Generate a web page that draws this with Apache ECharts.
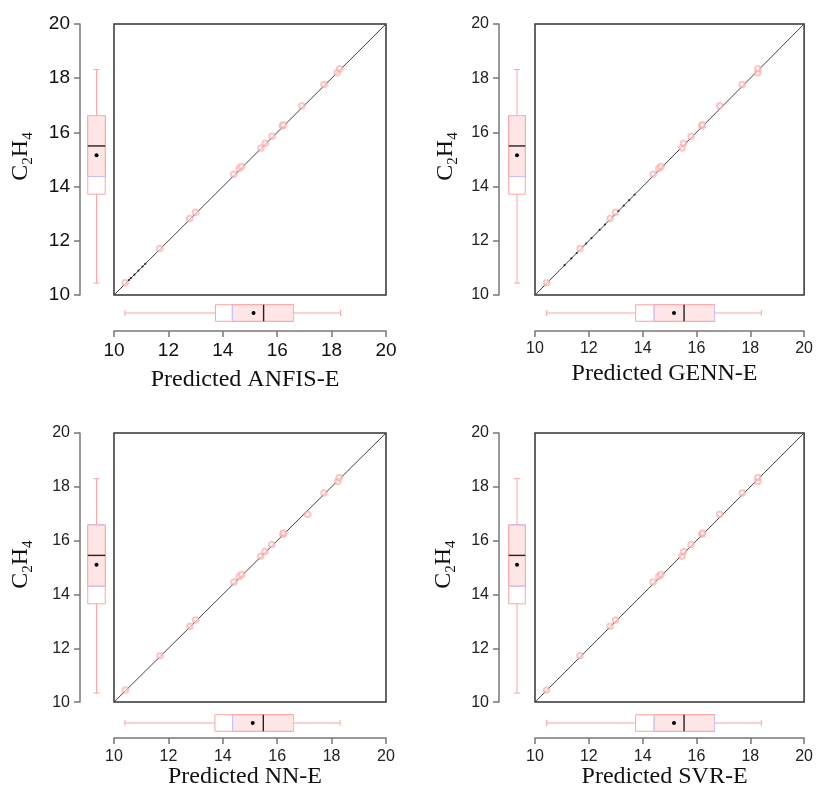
<!DOCTYPE html>
<html><head><meta charset="utf-8">
<script src="https://cdn.jsdelivr.net/npm/echarts@6/dist/echarts.min.js"></script>
<style>html,body{margin:0;padding:0;background:#fff}#c{width:816px;height:790px}</style>
</head><body><div id="c"></div>
<script>
// ---- data ----
const actualC2H4 = [10.45, 11.72, 12.82, 13.05, 14.46, 14.67, 14.74, 15.42, 15.60, 15.86, 16.24, 16.28, 16.98, 17.77, 18.20, 18.35];
const predANFIS  = [10.41, 11.68, 12.78, 13.00, 14.40, 14.60, 14.68, 15.40, 15.56, 15.81, 16.19, 16.22, 16.91, 17.72, 18.20, 18.30];
const predGENN   = [10.43, 11.67, 12.79, 12.99, 14.39, 14.60, 14.68, 15.46, 15.52, 15.80, 16.20, 16.22, 16.86, 17.70, 18.28, 18.28];
const predNN     = [10.42, 11.69, 12.79, 13.00, 14.41, 14.60, 14.69, 15.39, 15.55, 15.80, 16.21, 16.23, 17.12, 17.72, 18.22, 18.28];
const predSVR    = [10.43, 11.67, 12.79, 12.99, 14.39, 14.60, 14.68, 15.46, 15.52, 15.80, 16.20, 16.23, 16.86, 17.70, 18.28, 18.28];
// small black points lying on the identity line
const lineDotsANFIS = [10.55, 10.62, 10.75, 10.90, 11.05, 11.15];
const lineDotsGENN  = [11.10, 11.35, 11.55, 11.90, 12.10, 12.40, 12.60, 13.10, 13.30, 13.50, 13.70];
const lineDotsNN    = [];
const lineDotsSVR   = [];
// box stats: [lower whisker, Q1, inner lower edge, median, Q3, upper whisker, mean]
const boxActual = [10.44, 13.72, 14.37, 15.50, 16.62, 18.32, 15.16];
const boxANFIS  = [10.40, 13.73, 14.35, 15.50, 16.60, 18.33, 15.13];
const boxGENN   = [10.43, 13.70, 14.38, 15.48, 16.60, 18.32, 15.11];
const boxNN     = [10.40, 13.71, 14.36, 15.49, 16.60, 18.31, 15.10];
const boxSVR    = [10.43, 13.70, 14.38, 15.48, 16.60, 18.32, 15.11];
const modelNames = ['Predicted ANFIS-E', 'Predicted GENN-E', 'Predicted NN-E', 'Predicted SVR-E'];
const axisMin = 10, axisMax = 20, axisStep = 2;
const identityLine = [[10, 10], [20, 20]];

const preds = [predANFIS, predGENN, predNN, predSVR];
const dots = [lineDotsANFIS, lineDotsGENN, lineDotsNN, lineDotsSVR];
const hboxes = [boxANFIS, boxGENN, boxNN, boxSVR];

// ---- layout ----
const layout = [
  {left:114, top:24,  w:272, h:271, yOff:34, xOff:36, vL:87,  vW:19, hT:304, hH:18, lab:19, labC:'#111', xGap:37, yGap:44},
  {left:535, top:24,  w:272, h:271, yOff:36, xOff:36, vL:508, vW:18, hT:304, hH:18, lab:16, labC:'#222', xGap:31, yGap:38},
  {left:114, top:433, w:272, h:272, yOff:34, xOff:36, vL:87,  vW:19, hT:714, hH:18, lab:16, labC:'#222', xGap:25, yGap:44},
  {left:535, top:433, w:272, h:272, yOff:36, xOff:36, vL:508, vW:18, hT:714, hH:18, lab:16, labC:'#222', xGap:25, yGap:40}
];

const PINK = '#ffa4a4', FILL = '#ffe6e6', BLUE = '#c4c4ff';

function boxRenderer(vertical) {
  return function (params, api) {
    const lo = api.value(0), q1 = api.value(1), qi = api.value(2), med = api.value(3),
          q3 = api.value(4), hi = api.value(5), mean = api.value(6);
    const P = v => vertical ? api.coord([0.5, v]) : api.coord([v, 0.5]);
    const half = vertical ? api.size([0.46, 0])[0] : api.size([0, 0.46])[1];
    const cap = 3;
    const c = P(lo);
    const cc = vertical ? c[0] : c[1];
    const pos = v => vertical ? P(v)[1] : P(v)[0];
    function rect(a, b) {
      const s = Math.min(a, b), e = Math.max(a, b);
      if (vertical) return {x: cc - half, y: s, width: 2 * half, height: e - s};
      return {x: s, y: cc - half, width: e - s, height: 2 * half};
    }
    function line(a, b) {
      return vertical ? {x1: cc, y1: a, x2: cc, y2: b} : {x1: a, y1: cc, x2: b, y2: cc};
    }
    function cross(p, hl) {
      return vertical ? {x1: cc - hl, y1: p, x2: cc + hl, y2: p} : {x1: p, y1: cc - hl, x2: p, y2: cc + hl};
    }
    const ch = [];
    ch.push({type:'line', shape: line(pos(lo), pos(q1)), style:{stroke: PINK, lineWidth: 1}});
    ch.push({type:'line', shape: line(pos(q3), pos(hi)), style:{stroke: PINK, lineWidth: 1}});
    ch.push({type:'line', shape: cross(pos(lo), cap), style:{stroke: PINK, lineWidth: 1}});
    ch.push({type:'line', shape: cross(pos(hi), cap), style:{stroke: PINK, lineWidth: 1}});
    ch.push({type:'rect', shape: rect(pos(q1), pos(q3)), style:{fill:'#fff', stroke: PINK, lineWidth: 1}});
    ch.push({type:'rect', shape: rect(pos(qi), pos(q3)), style:{fill: FILL, stroke: PINK, lineWidth: 1}});
    ch.push({type:'line', shape: cross(pos(qi), half - 0.5), style:{stroke: BLUE, lineWidth: 1}});
    ch.push({type:'line', shape: cross(pos(q3), half - 0.5), style:{stroke: BLUE, lineWidth: 1}});
    ch.push({type:'line', shape: cross(pos(med), half), style:{stroke: '#222', lineWidth: 1.4}});
    const m = P(mean);
    ch.push({type:'circle', shape: vertical ? {cx: cc, cy: m[1], r: 2} : {cx: m[0], cy: cc, r: 2}, style:{fill:'#000'}});
    return {type:'group', children: ch};
  };
}

const grid = [], xAxis = [], yAxis = [], series = [];
const serif = 'Liberation Serif';
const sans = 'Liberation Sans';
layout.forEach((L, i) => {
  const g = 3 * i;
  grid.push({left: L.left, top: L.top, width: L.w, height: L.h, show: true, borderColor: '#333', borderWidth: 1.5, containLabel: false});
  grid.push({left: L.vL, top: L.top, width: L.vW, height: L.h, containLabel: false});
  grid.push({left: L.left, top: L.hT, width: L.w, height: L.hH, containLabel: false});
  const axCommon = {
    type: 'value', min: axisMin, max: axisMax, interval: axisStep,
    axisLine: {show: true, onZero: false, lineStyle: {color: '#777', width: 1.5}},
    axisTick: {show: true, length: 6, inside: false, lineStyle: {color: '#777', width: 1.5}},
    axisLabel: {fontFamily: sans, fontSize: L.lab, color: L.labC},
    splitLine: {show: false}
  };
  xAxis.push(Object.assign({}, axCommon, {
    gridIndex: g, position: 'bottom', offset: L.xOff,
    axisLabel: Object.assign({}, axCommon.axisLabel, {margin: 10}),
    name: modelNames[i], nameLocation: 'middle', nameGap: L.xGap,
    nameTextStyle: {fontFamily: serif, fontSize: 24, color: '#111', padding: [0, 10, 0, 0]}
  }));
  yAxis.push(Object.assign({}, axCommon, {
    gridIndex: g, position: 'left', offset: L.yOff,
    axisLabel: Object.assign({}, axCommon.axisLabel, {margin: 10}),
    name: '{a|C}{s|2}{a|H}{s|4}', nameLocation: 'middle', nameGap: L.yGap,
    nameTextStyle: {fontFamily: serif, fontSize: 24, color: '#111', padding: [0, 0, 0, 6],
      rich: {a: {fontFamily: serif, fontSize: 24, color: '#111', lineHeight: 30, verticalAlign: 'middle'},
             s: {fontFamily: serif, fontSize: 15, color: '#111', lineHeight: 30, verticalAlign: 'bottom', padding: [12, 0, 0, 0]}}}
  }));
  xAxis.push({gridIndex: g + 1, type: 'value', min: 0, max: 1, show: false});
  yAxis.push({gridIndex: g + 1, type: 'value', min: axisMin, max: axisMax, show: false});
  xAxis.push({gridIndex: g + 2, type: 'value', min: axisMin, max: axisMax, show: false});
  yAxis.push({gridIndex: g + 2, type: 'value', min: 0, max: 1, show: false});

  series.push({type: 'line', xAxisIndex: g, yAxisIndex: g, data: identityLine, symbol: 'none',
    lineStyle: {color: '#444', width: 1}, silent: true, z: 2});
  series.push({type: 'scatter', xAxisIndex: g, yAxisIndex: g,
    data: preds[i].map((p, k) => [p, actualC2H4[k]]),
    symbol: 'emptyCircle', symbolSize: 5.5, itemStyle: {color: '#ff9c9c', borderWidth: 1, opacity: 0.6}, z: 3});
  series.push({type: 'scatter', xAxisIndex: g, yAxisIndex: g,
    data: dots[i].map(v => [v, v]), symbol: 'circle', symbolSize: 2.2, itemStyle: {color: '#111'}, z: 4});
  series.push({type: 'custom', xAxisIndex: g + 1, yAxisIndex: g + 1, renderItem: boxRenderer(true),
    data: [boxActual], encode: {x: -1, y: [0, 1, 2, 3, 4, 5, 6]}, silent: true});
  series.push({type: 'custom', xAxisIndex: g + 2, yAxisIndex: g + 2, renderItem: boxRenderer(false),
    data: [hboxes[i]], encode: {x: [0, 1, 2, 3, 4, 5, 6], y: -1}, silent: true});
});

const chart = echarts.init(document.getElementById('c'), null, {renderer: 'canvas'});
chart.setOption({animation: false, backgroundColor: '#fff', grid, xAxis, yAxis, series});
</script>
</body></html>
